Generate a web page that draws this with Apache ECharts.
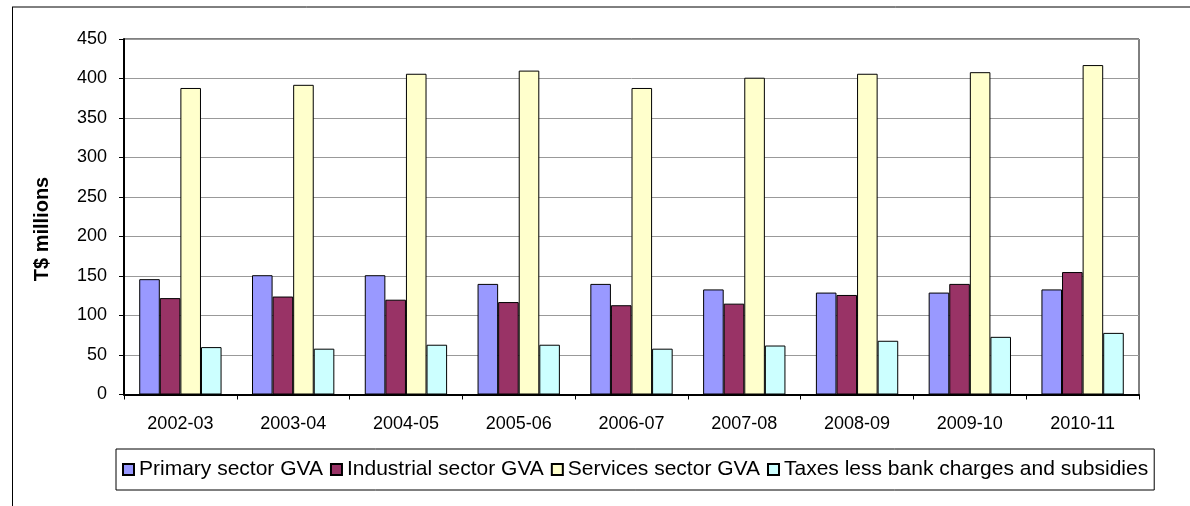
<!DOCTYPE html>
<html>
<head>
<meta charset="utf-8">
<title>GVA by sector</title>
<script src="https://cdn.jsdelivr.net/npm/echarts@6/dist/echarts.min.js"></script>
<style>
  html, body { margin: 0; padding: 0; background: #fff; }
  #chart { width: 1190px; height: 506px; }
</style>
</head>
<body>
<div id="chart"></div>
<script>
// Fiscal years on the category axis
const years = ['2002-03', '2003-04', '2004-05', '2005-06', '2006-07', '2007-08', '2008-09', '2009-10', '2010-11'];

// Values in T$ millions
const primaryGVA    = [146, 151, 151, 140, 140, 133, 129, 129, 133];
const industrialGVA = [122, 124, 120, 117, 113, 115, 126, 140, 155];
const servicesGVA   = [388, 392, 406, 410, 388, 401, 406, 408, 417];
const taxesLess     = [60, 58, 63, 63, 58, 62, 68, 73, 78];

const seriesNames = ['Primary sector GVA', 'Industrial sector GVA', 'Services sector GVA', 'Taxes less bank charges and subsidies'];
const seriesColors = ['#9999FF', '#993366', '#FFFFCC', '#CCFFFF'];
const seriesData = [primaryGVA, industrialGVA, servicesGVA, taxesLess];

const FONT = "'Liberation Sans', Arial, sans-serif";

const chart = echarts.init(document.getElementById('chart'), null, { renderer: 'canvas' });

chart.setOption({
  animation: false,
  backgroundColor: '#fff',
  textStyle: { fontFamily: FONT, color: '#000' },
  grid: {
    left: 124, right: 51, top: 39, bottom: 111.5,
    show: true, borderColor: '#000', borderWidth: 1, backgroundColor: 'transparent'
  },
  legend: {
    left: 116, top: 449,
    padding: [10, 6],
    itemGap: 7,
    itemWidth: 11, itemHeight: 11,
    icon: 'rect',
    borderColor: '#000', borderWidth: 1,
    backgroundColor: '#fff',
    textStyle: { fontFamily: FONT, fontSize: 21, color: '#000' },
    data: seriesNames
  },
  xAxis: {
    type: 'category',
    data: years,
    boundaryGap: true,
    axisLine: { lineStyle: { color: '#000', width: 2 } },
    axisTick: { show: true, length: 5, lineStyle: { color: '#000', width: 1 } },
    axisLabel: { fontFamily: FONT, fontSize: 18, color: '#000', margin: 21 },
    splitLine: { show: false }
  },
  yAxis: {
    type: 'value',
    min: 0, max: 450, interval: 50,
    axisLine: { show: true, lineStyle: { color: '#000', width: 2 } },
    axisTick: { show: true, length: 5, lineStyle: { color: '#000', width: 1 } },
    axisLabel: { fontFamily: FONT, fontSize: 18, color: '#000', margin: 17 },
    splitLine: { show: true, lineStyle: { color: '#999', width: 1 } }
  },
  series: seriesNames.map((name, i) => ({
    name: name,
    type: 'bar',
    data: seriesData[i],
    barGap: '0%',
    barCategoryGap: '27%',
    itemStyle: { color: seriesColors[i], borderColor: '#000', borderWidth: 1 }
  })),
  graphic: [
    // outer chart frame (top and left edges)
    { type: 'line', shape: { x1: 12, y1: 7, x2: 1190, y2: 7 }, style: { stroke: '#000', lineWidth: 1 }, silent: true },
    { type: 'line', shape: { x1: 12.5, y1: 7, x2: 12.5, y2: 506 }, style: { stroke: '#000', lineWidth: 1 }, silent: true },
    // value axis title
    {
      type: 'text', x: 42, y: 229, rotation: Math.PI / 2,
      style: {
        text: 'T$ millions', fill: '#000',
        font: "bold 20px 'Liberation Sans', Arial, sans-serif",
        textAlign: 'center', textVerticalAlign: 'middle'
      },
      silent: true
    }
  ]
});
</script>
</body>
</html>
